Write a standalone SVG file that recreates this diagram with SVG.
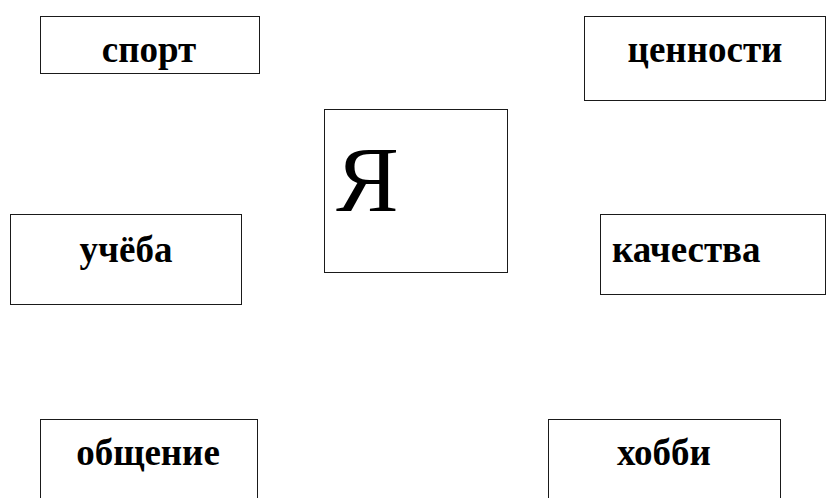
<svg xmlns="http://www.w3.org/2000/svg" width="826" height="498" viewBox="0 0 826 498">
<style>
rect{fill:#fff;stroke:#1a1a1a;stroke-width:1}
.t{font-family:"Liberation Serif","Times New Roman",serif;font-weight:bold;font-size:37px;fill:#000}
.ya{font-family:"Liberation Serif","Times New Roman",serif;font-size:94px;fill:#000}
</style>
<rect x="0" y="0" width="826" height="498" style="stroke:none"/>
<g id="connectors"></g>
<g id="sport"><rect x="40.5" y="16.5" width="219" height="57"/><text class="t" x="149" y="62" text-anchor="middle">спорт</text></g>
<g id="cennosti"><rect x="584.5" y="16.5" width="241" height="84"/><text class="t" x="705" y="62" text-anchor="middle">ценности</text></g>
<g id="ya"><rect x="324.5" y="109.5" width="183" height="163"/><text class="ya" x="336" y="211">Я</text></g>
<g id="ucheba"><rect x="10.5" y="214.5" width="231" height="90"/><text class="t" x="126" y="262" text-anchor="middle">учёба</text></g>
<g id="kachestva"><rect x="600.5" y="214.5" width="225" height="80"/><text class="t" x="612" y="262">качества</text></g>
<g id="obshchenie"><rect x="40.5" y="419.5" width="217" height="90"/><text class="t" x="148" y="465" text-anchor="middle">общение</text></g>
<g id="hobbi"><rect x="548.5" y="419.5" width="232" height="90"/><text class="t" x="664" y="465" text-anchor="middle">хобби</text></g>
</svg>
